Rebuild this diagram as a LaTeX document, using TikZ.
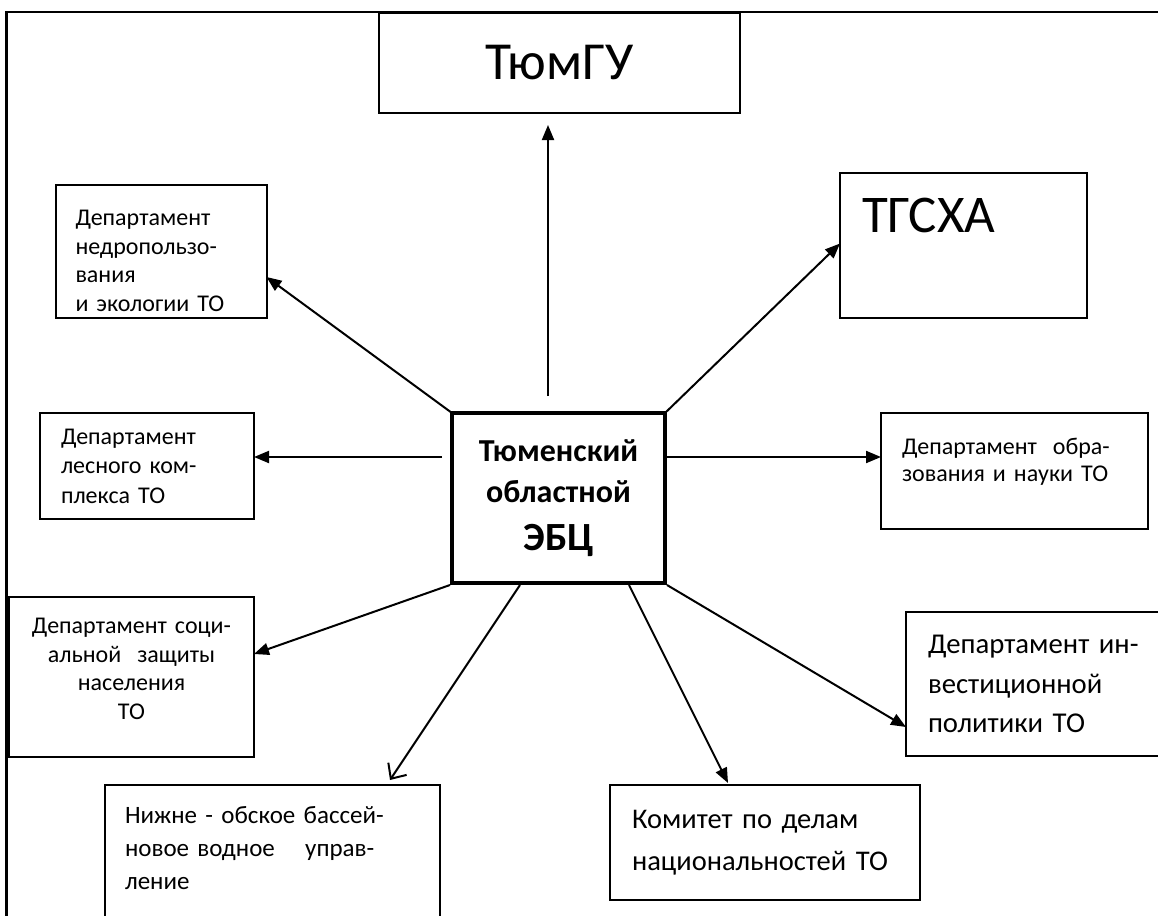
\documentclass[tikz,border=0pt]{standalone}
\usepackage{fontspec}
\setmainfont{Carlito}
\usetikzlibrary{positioning}
\usetikzlibrary{arrows.meta}

\begin{document}
\begin{tikzpicture}[
    x=1pt, y=-1pt,
    box/.style={draw, line width=2pt, anchor=north west, outer sep=0pt, inner ysep=0pt, align=left},
    arrow/.style={-{Triangle[length=15pt, width=12pt]}, line width=2pt},
    openarrow/.style={-{Straight Barb[length=12pt, width=22pt, line width=2pt]}, line width=2pt}
]
    \useasboundingbox (0,0) rectangle (1158,915);
    \clip (0,0) rectangle (1158,915);
    % outer frame
    \draw[line width=2.5pt] (6.5,940) -- (6.5,12) -- (1180,12);

    % centre
    \node[box, line width=4pt, minimum width=213pt, minimum height=170pt, align=center,
          font=\bfseries\fontsize{32}{41}\selectfont] (ebc) at (452,413)
          {Тюменский\\областной\\[7pt]{\fontsize{40}{41}\selectfont ЭБЦ}};

    % top row
    \node[box, minimum width=361pt, minimum height=100pt, align=center,
          font=\fontsize{53.5}{60}\selectfont] (tyumgu) at (379,13) {ТюмГУ};
    \node[box, minimum width=247pt, minimum height=145pt, text width=203pt, inner xsep=22pt,
          text depth=60pt, font=\fontsize{53}{60}\selectfont] (tgsxa) at (840,173) {ТГСХА};
    \node[box, minimum width=211pt, minimum height=133pt, text width=171pt, inner xsep=20pt,
          text height=34pt, font=\fontsize{24}{28.5}\selectfont] (nedro) at (55.5,185)
          {Департамент\\недропользо-\\вания\\и экологии ТО};

    % middle row
    \node[box, minimum width=214pt, minimum height=106pt, text width=172pt, inner xsep=21pt,
          font=\fontsize{24}{29.5}\selectfont] (les) at (40,413)
          {Департамент\\лесного ком-\\плекса ТО};
    \node[box, minimum width=267pt, minimum height=116pt, text width=225pt, inner xsep=21pt,
          text depth=50pt, font=\fontsize{24}{27}\selectfont] (edu) at (881,413)
          {Департамент\ \ обра-\\зования и науки ТО};

    % lower rows
    \node[box, minimum width=245pt, minimum height=160pt, text width=240pt, inner xsep=2.5pt,
          align=center, text depth=102pt, font=\fontsize{24}{28.5}\selectfont] (soc) at (9,597)
          {Департамент соци-\\альной\ \ защиты\\населения\\ТО};
    \node[box, minimum width=300pt, minimum height=144pt, text width=256pt, inner xsep=22pt,
          font=\fontsize{28.7}{39.5}\selectfont] (invest) at (906,612)
          {Департамент ин-\\вестиционной\\политики ТО};
    \node[box, minimum width=335pt, minimum height=150pt, text width=295pt, inner xsep=20pt,
          text depth=90pt, font=\fontsize{25}{33}\selectfont] (nizhne) at (105,785)
          {Нижне - обское бассей-\\новое водное\hspace{22pt} управ-\\ление};
    \node[box, minimum width=310pt, minimum height=115pt, text width=266pt, inner xsep=22pt,
          font=\fontsize{28.5}{42}\selectfont] (komitet) at (610,785)
          {Комитет по делам\\национальностей ТО};

    % connectors
    \draw[arrow] ([xshift=-10.5pt, yshift=17pt]ebc.north) -- ([xshift=-11.5pt, yshift=-12pt]tyumgu.south);
    \draw[arrow] (ebc.north east) -- ([yshift=2pt]tgsxa.west);
    \draw[arrow] (ebc.north west) -- ([yshift=-25.5pt]nedro.east);
    \draw[arrow] ([xshift=-10pt, yshift=-44pt]ebc.north west) -- ([yshift=9pt]les.east);
    \draw[arrow] ([yshift=-44pt]ebc.north east) -- ([yshift=14pt]edu.west);
    \draw[arrow] ([xshift=-2pt, yshift=-2pt]ebc.south west) -- ([yshift=23pt]soc.east);
    \draw[openarrow] ([xshift=-38.5pt, yshift=-2pt]ebc.south) -- ([xshift=117.5pt, yshift=5pt]nizhne.north);
    \draw[arrow] ([xshift=70.5pt, yshift=-2pt]ebc.south) -- ([xshift=-37pt, yshift=2pt]komitet.north);
    \draw[arrow] ([xshift=2pt, yshift=-2pt]ebc.south east) -- ([yshift=-43pt]invest.west);
\end{tikzpicture}
\end{document}
